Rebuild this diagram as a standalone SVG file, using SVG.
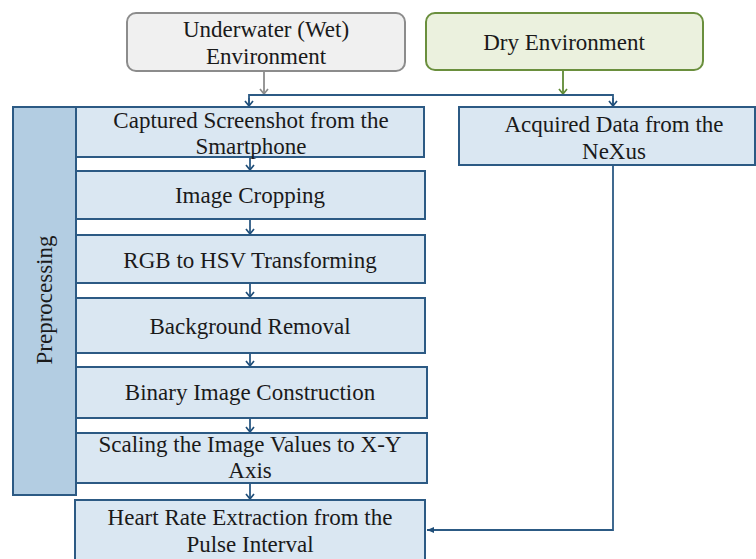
<svg xmlns="http://www.w3.org/2000/svg" width="756" height="559" viewBox="0 0 756 559">
<defs>
<marker id="ab" markerWidth="10" markerHeight="10" refX="7" refY="5" orient="auto" markerUnits="userSpaceOnUse" viewBox="0 0 10 10">
<path d="M2,1 L7,5 L2,9" fill="none" stroke="#1f4e79" stroke-width="1.7"/>
</marker>
<marker id="ag" markerWidth="10" markerHeight="10" refX="7" refY="5" orient="auto" markerUnits="userSpaceOnUse" viewBox="0 0 10 10">
<path d="M2,1 L7,5 L2,9" fill="none" stroke="#8c8c8c" stroke-width="1.7"/>
</marker>
<marker id="agr" markerWidth="10" markerHeight="10" refX="7" refY="5" orient="auto" markerUnits="userSpaceOnUse" viewBox="0 0 10 10">
<path d="M2,1 L7,5 L2,9" fill="none" stroke="#5f8a35" stroke-width="1.7"/>
</marker>
<marker id="al" markerWidth="8" markerHeight="8" refX="7" refY="4" orient="auto" markerUnits="userSpaceOnUse" viewBox="0 0 8 8">
<path d="M0,1 L7,4 L0,7 Z" fill="#1f4e79"/>
</marker>
</defs>
<style>
.t{font-family:"Liberation Serif","Times New Roman",serif;font-size:23px;fill:#1a1a1a;text-anchor:middle}
.b{fill:#dae7f2;stroke:#2c5a84;stroke-width:2}
.c{fill:none;stroke:#2c5a84;stroke-width:1.8}
</style>
<g id="connectors">
<line x1="264" y1="71" x2="264" y2="94" stroke="#8c8c8c" stroke-width="1.8" marker-end="url(#ag)"/>
<line x1="563" y1="70" x2="563" y2="94" stroke="#5f8a35" stroke-width="1.8" marker-end="url(#agr)"/>
<polyline class="c" points="249,106 249,95 613,95 613,106"/>
<line class="c" x1="249" y1="98" x2="249" y2="106" marker-end="url(#ab)"/>
<line class="c" x1="613" y1="98" x2="613" y2="106" marker-end="url(#ab)"/>
<line class="c" x1="250" y1="157" x2="250" y2="170" marker-end="url(#ab)"/>
<line class="c" x1="250" y1="219" x2="250" y2="234" marker-end="url(#ab)"/>
<line class="c" x1="250" y1="283" x2="250" y2="297" marker-end="url(#ab)"/>
<line class="c" x1="250" y1="353" x2="250" y2="366" marker-end="url(#ab)"/>
<line class="c" x1="250" y1="418" x2="250" y2="432" marker-end="url(#ab)"/>
<line class="c" x1="250" y1="483" x2="250" y2="499" marker-end="url(#ab)"/>
<polyline class="c" points="613,165 613,530 427,530" marker-end="url(#al)"/>
</g>
<g id="wet">
<rect x="127" y="13" width="278" height="58" rx="9" fill="#f0f0f0" stroke="#8c8c8c" stroke-width="2"/>
<text class="t" x="266" y="37">Underwater (Wet)</text>
<text class="t" x="266" y="64">Environment</text>
</g>
<g id="dry">
<rect x="426" y="13" width="277" height="57" rx="9" fill="#ebf1de" stroke="#6a8f3d" stroke-width="2"/>
<text class="t" x="564" y="50">Dry Environment</text>
</g>
<g id="preprocessing">
<rect x="13" y="107" width="63" height="388" fill="#b3cde2" stroke="#2c5a84" stroke-width="2"/>
<text class="t" transform="translate(52,300) rotate(-90)">Preprocessing</text>
</g>
<g id="captured">
<rect class="b" x="76" y="107" width="348" height="50"/>
<text class="t" x="251" y="128">Captured Screenshot from the</text>
<text class="t" x="251" y="154">Smartphone</text>
</g>
<g id="cropping">
<rect class="b" x="76" y="171" width="349" height="48"/>
<text class="t" x="250" y="203">Image Cropping</text>
</g>
<g id="rgb">
<rect class="b" x="76" y="235" width="349" height="48"/>
<text class="t" x="250" y="268">RGB to HSV Transforming</text>
</g>
<g id="background">
<rect class="b" x="76" y="298" width="349" height="55"/>
<text class="t" x="250" y="334">Background Removal</text>
</g>
<g id="binary">
<rect class="b" x="76" y="367" width="351" height="51"/>
<text class="t" x="250" y="400">Binary Image Construction</text>
</g>
<g id="scaling">
<rect class="b" x="76" y="433" width="351" height="50"/>
<text class="t" x="250" y="452">Scaling the Image Values to X-Y</text>
<text class="t" x="250" y="478">Axis</text>
</g>
<g id="heart">
<rect class="b" x="75" y="500" width="350" height="62"/>
<text class="t" x="250" y="525">Heart Rate Extraction from the</text>
<text class="t" x="250" y="552">Pulse Interval</text>
</g>
<g id="acquired">
<rect class="b" x="459" y="107" width="296" height="58"/>
<text class="t" x="614" y="132">Acquired Data from the</text>
<text class="t" x="614" y="159">NeXus</text>
</g>
</svg>
